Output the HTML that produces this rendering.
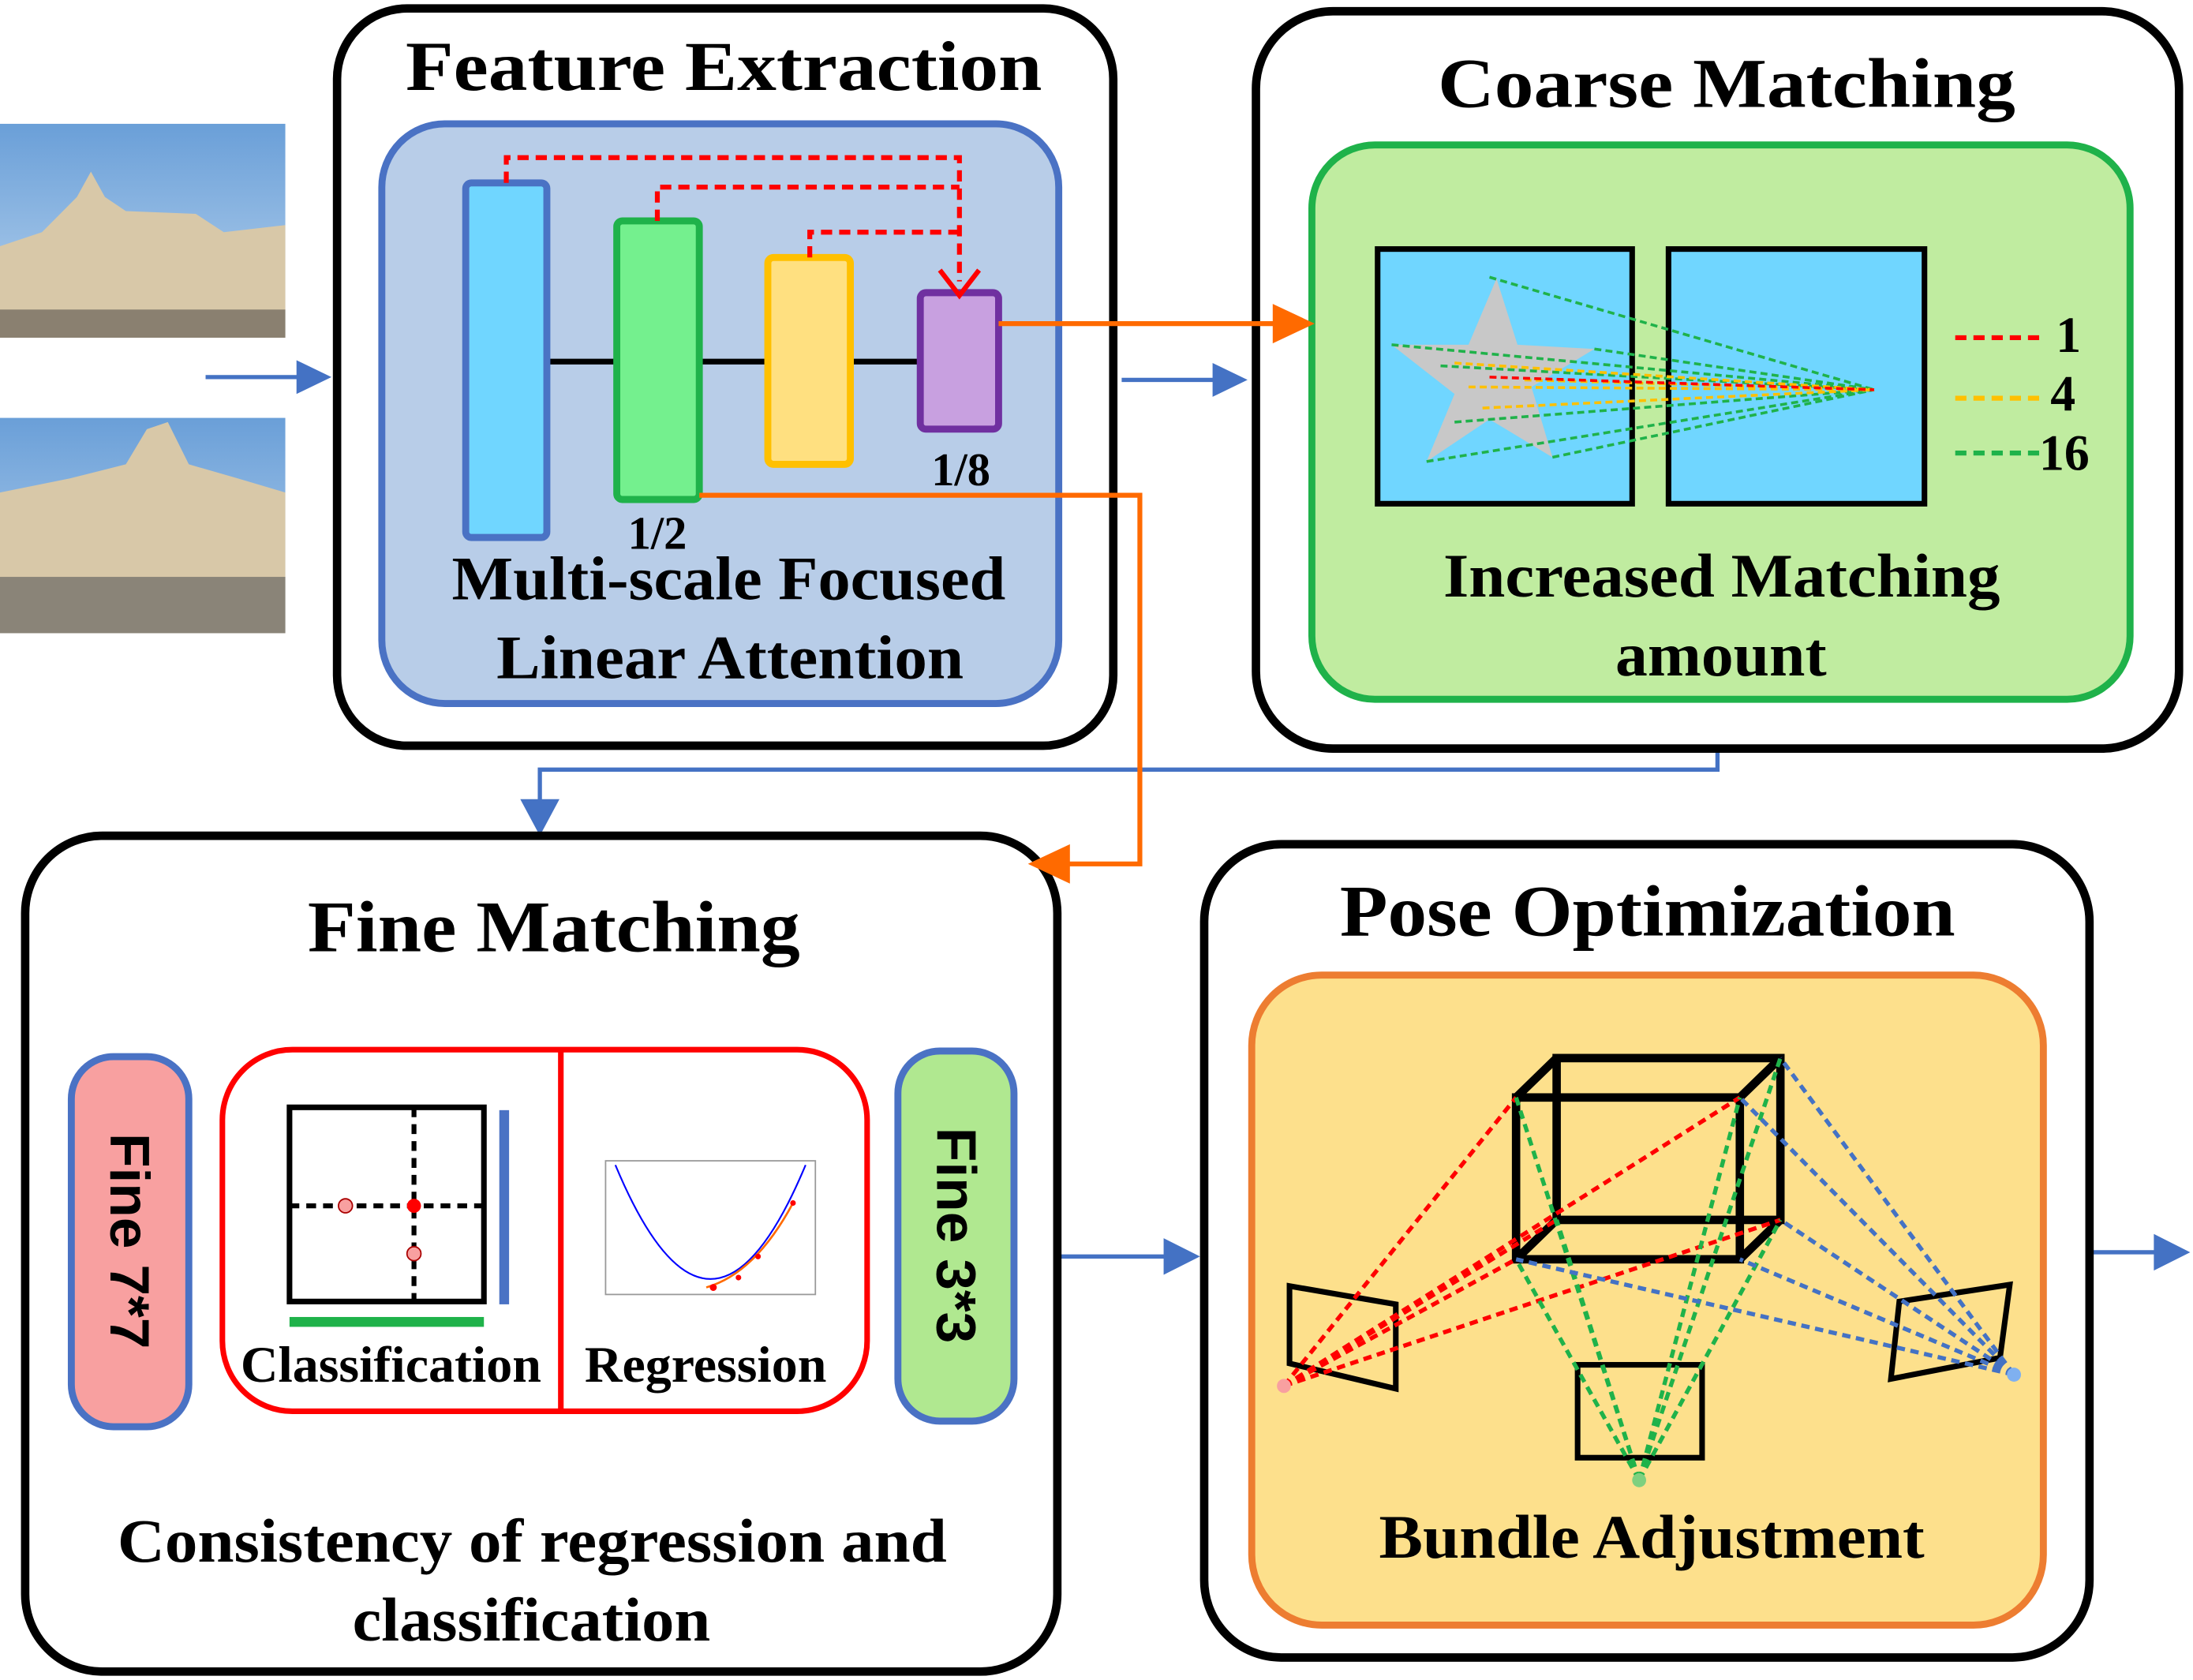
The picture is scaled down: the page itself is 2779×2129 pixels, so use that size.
<!DOCTYPE html>
<html><head><meta charset="utf-8"><style>html,body{margin:0;padding:0;background:#fff}svg{display:block}</style></head><body>
<svg width="2779" height="2129" viewBox="0 0 1568 1194" preserveAspectRatio="none" xmlns="http://www.w3.org/2000/svg" font-family="Liberation Serif, serif" font-weight="bold">
<defs>
<linearGradient id="sky" x1="0" y1="0" x2="0" y2="1"><stop offset="0" stop-color="#6a9fd8"/><stop offset="1" stop-color="#b9d4ee"/></linearGradient>
</defs>
<!-- photos -->
<rect x="0" y="88" width="204" height="152" fill="url(#sky)"/>
<path d="M0,240 L0,175 L30,165 L45,150 L55,140 L65,122 L75,140 L90,150 L140,152 L160,165 L204,160 L204,240Z" fill="#d8c8a8"/>
<rect x="0" y="220" width="204" height="20" fill="#8a8070"/>
<rect x="0" y="297" width="204" height="153" fill="url(#sky)"/>
<path d="M0,450 L0,350 L50,340 L90,330 L105,305 L120,300 L135,330 L170,340 L204,350 L204,450Z" fill="#d8c8a8"/>
<rect x="0" y="410" width="204" height="40" fill="#8a8478"/>
<!-- arrows -->
<g stroke="#4472c4" stroke-width="3" fill="#4472c4">
<line x1="147" y1="268" x2="215" y2="268"/><path d="M237,268 L212,256 L212,280Z" stroke="none"/>
<line x1="802" y1="270" x2="870" y2="270"/><path d="M892,270 L867,258 L867,282Z" stroke="none"/>
<polyline points="1228,532 1228,547 386,547 386,572" fill="none"/><path d="M386,594 L372,568 L400,568Z" stroke="none"/>
<line x1="756" y1="893" x2="835" y2="893"/><path d="M858,893 L832,880 L832,906Z" stroke="none"/>
<line x1="1494" y1="890" x2="1542" y2="890"/><path d="M1566,890 L1540,877 L1540,903Z" stroke="none"/>
</g>
<!-- Feature Extraction -->
<rect x="241" y="6" width="555" height="524" rx="50" fill="#fff" stroke="#000" stroke-width="6"/>
<text x="290" y="64" font-size="50" textLength="455" lengthAdjust="spacingAndGlyphs">Feature Extraction</text>
<rect x="273" y="88" width="484" height="412" rx="45" fill="#b8cde8" stroke="#4a72c4" stroke-width="5"/>
<g stroke="#000" stroke-width="4"><line x1="391" y1="257" x2="441" y2="257"/><line x1="500" y1="257" x2="549" y2="257"/><line x1="608" y1="257" x2="658" y2="257"/></g>
<rect x="333" y="130" width="58" height="252" rx="4" fill="#70d6ff" stroke="#4a72c4" stroke-width="5"/>
<rect x="441" y="157" width="59" height="198" rx="4" fill="#74f08e" stroke="#1fb24a" stroke-width="5"/>
<rect x="549" y="183" width="59" height="147" rx="4" fill="#ffe080" stroke="#ffc000" stroke-width="5"/>
<rect x="658" y="208" width="56" height="97" rx="4" fill="#c8a0e0" stroke="#7030a0" stroke-width="5"/>
<g stroke="#ff0000" stroke-width="3.5" stroke-dasharray="8,5" fill="none">
<polyline points="362,130 362,112 686,112 686,200"/>
<polyline points="470,157 470,133 686,133"/>
<polyline points="579,183 579,165 686,165"/>
</g>
<path d="M672,192 L686,210 L700,192" fill="none" stroke="#ff0000" stroke-width="3.5"/>
<text x="470" y="390" font-size="33" text-anchor="middle">1/2</text>
<text x="687" y="345" font-size="33" text-anchor="middle">1/8</text>
<text x="323" y="426" font-size="44" textLength="396" lengthAdjust="spacingAndGlyphs">Multi-scale Focused</text>
<text x="355" y="482" font-size="44" textLength="334" lengthAdjust="spacingAndGlyphs">Linear Attention</text>
<!-- Coarse -->
<rect x="898" y="8" width="660" height="524" rx="55" fill="#fff" stroke="#000" stroke-width="6"/>
<text x="1028" y="76" font-size="50" textLength="413" lengthAdjust="spacingAndGlyphs">Coarse Matching</text>
<rect x="938" y="103" width="585" height="394" rx="45" fill="#c0eca0" stroke="#1fb24a" stroke-width="5"/>
<rect x="985" y="177" width="182" height="181" fill="#70d6ff" stroke="#000" stroke-width="4"/>
<rect x="1193" y="177" width="183" height="181" fill="#70d6ff" stroke="#000" stroke-width="4"/>
<path d="M1070,198 L1085,245 L1140,248 L1095,275 L1110,325 L1065,298 L1020,328 L1040,280 L995,245 L1050,245Z" fill="#c8c8c8"/>
<g stroke-width="2" stroke-dasharray="5,3" fill="none">
<g stroke="#1fb24a"><line x1="1065" y1="197" x2="1340" y2="277"/><line x1="995" y1="245" x2="1340" y2="277"/><line x1="1020" y1="328" x2="1340" y2="277"/><line x1="1110" y1="325" x2="1340" y2="277"/><line x1="1140" y1="248" x2="1340" y2="277"/><line x1="1040" y1="300" x2="1340" y2="277"/><line x1="1030" y1="260" x2="1340" y2="277"/></g>
<g stroke="#ffc000"><line x1="1040" y1="258" x2="1340" y2="277"/><line x1="1060" y1="290" x2="1340" y2="277"/><line x1="1090" y1="270" x2="1340" y2="277"/><line x1="1050" y1="275" x2="1340" y2="277"/></g>
<g stroke="#ff0000"><line x1="1065" y1="268" x2="1340" y2="277"/></g>
</g>
<g stroke-width="3.5" stroke-dasharray="8,5"><line x1="1398" y1="240" x2="1462" y2="240" stroke="#ff0000"/><line x1="1398" y1="283" x2="1462" y2="283" stroke="#ffc000"/><line x1="1398" y1="322" x2="1462" y2="322" stroke="#1fb24a"/></g>
<text x="1470" y="250" font-size="36">1</text><text x="1466" y="292" font-size="36">4</text><text x="1458" y="334" font-size="36">16</text>
<text x="1032" y="424" font-size="44" textLength="398" lengthAdjust="spacingAndGlyphs">Increased Matching</text>
<text x="1155" y="480" font-size="44" textLength="151" lengthAdjust="spacingAndGlyphs">amount</text>
<!-- orange arrows -->
<g stroke="#ff6a00" stroke-width="3.5" fill="#ff6a00">
<line x1="714" y1="230" x2="915" y2="230"/><path d="M940,230 L910,216 L910,244Z" stroke="none"/>
<polyline points="500,352 815,352 815,614 760,614" fill="none"/>
</g>
<!-- Fine Matching -->
<rect x="18" y="594" width="738" height="594" rx="55" fill="#fff" stroke="#000" stroke-width="6"/>
<path d="M735,614 L765,600 L765,628Z" fill="#ff6a00"/>
<text x="220" y="676" font-size="52" textLength="352" lengthAdjust="spacingAndGlyphs">Fine Matching</text>
<rect x="51" y="751" width="84" height="263" rx="30" fill="#f8a0a0" stroke="#4a72c4" stroke-width="5"/>
<text x="0" y="0" font-size="40" font-family="Liberation Sans, sans-serif" text-anchor="middle" transform="translate(79,882) rotate(90)">Fine 7*7</text>
<rect x="642" y="747" width="83" height="263" rx="30" fill="#b0e890" stroke="#4a72c4" stroke-width="5"/>
<text x="0" y="0" font-size="40" font-family="Liberation Sans, sans-serif" text-anchor="middle" transform="translate(670,878) rotate(90)">Fine 3*3</text>
<rect x="159" y="746" width="461" height="257" rx="50" fill="#fff" stroke="#ff0000" stroke-width="4"/>
<line x1="401" y1="746" x2="401" y2="1003" stroke="#ff0000" stroke-width="4"/>
<rect x="207" y="787" width="139" height="138" fill="none" stroke="#000" stroke-width="4"/>
<g stroke="#000" stroke-width="3.5" stroke-dasharray="7,5"><line x1="296" y1="787" x2="296" y2="925"/><line x1="207" y1="857" x2="346" y2="857"/></g>
<circle cx="247" cy="857" r="5" fill="#f8a0a0" stroke="#a00" stroke-width="1"/><circle cx="296" cy="857" r="5" fill="#ff0000"/><circle cx="296" cy="891" r="5" fill="#f8a0a0" stroke="#a00" stroke-width="1"/>
<rect x="357" y="789" width="7" height="138" fill="#4a72c4"/>
<rect x="207" y="936" width="139" height="7" fill="#1fb24a"/>
<text x="172" y="982" font-size="36" textLength="215" lengthAdjust="spacingAndGlyphs">Classification</text>
<text x="418" y="982" font-size="36" textLength="173" lengthAdjust="spacingAndGlyphs">Regression</text>
<rect x="433" y="825" width="150" height="95" fill="none" stroke="#999" stroke-width="1"/>
<path d="M440,828 Q508,990 576,828" fill="none" stroke="#0000ff" stroke-width="1.2"/>
<path d="M505,915 Q540,905 567,855" fill="none" stroke="#ff6a00" stroke-width="1.5"/>
<g fill="#ff0000"><circle cx="510" cy="915" r="2.5"/><circle cx="528" cy="908" r="2"/><circle cx="542" cy="893" r="2"/><circle cx="567" cy="855" r="2"/></g>
<text x="84" y="1110" font-size="44" textLength="593" lengthAdjust="spacingAndGlyphs">Consistency of regression and</text>
<text x="252" y="1166" font-size="44" textLength="256" lengthAdjust="spacingAndGlyphs">classification</text>
<!-- Pose -->
<rect x="861" y="600" width="633" height="578" rx="55" fill="#fff" stroke="#000" stroke-width="6"/>
<text x="958" y="665" font-size="52" textLength="440" lengthAdjust="spacingAndGlyphs">Pose Optimization</text>
<rect x="895" y="693" width="566" height="462" rx="50" fill="#fde08c" stroke="#ed7d31" stroke-width="5"/>
<g stroke="#000" stroke-width="6" fill="none">
<rect x="1084" y="780" width="160" height="115"/>
<rect x="1113" y="752" width="160" height="115"/>
<line x1="1084" y1="780" x2="1113" y2="752"/><line x1="1244" y1="780" x2="1273" y2="752"/><line x1="1084" y1="895" x2="1113" y2="867"/><line x1="1244" y1="895" x2="1273" y2="867"/>
</g>
<g stroke="#000" stroke-width="4" fill="none">
<path d="M922,914 L998,927 L998,987 L922,969Z"/>
<path d="M1358,925 L1437,913 L1430,965 L1352,980Z"/>
<rect x="1128" y="970" width="89" height="66"/>
</g>
<g stroke-width="3" stroke-dasharray="6,4" fill="none">
<g stroke="#ff0000"><line x1="918" y1="985" x2="1084" y2="780"/><line x1="918" y1="985" x2="1244" y2="780"/><line x1="918" y1="985" x2="1113" y2="867"/><line x1="918" y1="985" x2="1273" y2="867"/><line x1="918" y1="985" x2="1084" y2="895"/></g>
<g stroke="#1fb24a"><line x1="1172" y1="1052" x2="1084" y2="780"/><line x1="1172" y1="1052" x2="1244" y2="780"/><line x1="1172" y1="1052" x2="1273" y2="752"/><line x1="1172" y1="1052" x2="1113" y2="867"/><line x1="1172" y1="1052" x2="1084" y2="895"/><line x1="1172" y1="1052" x2="1273" y2="867"/></g>
<g stroke="#4472c4"><line x1="1440" y1="977" x2="1273" y2="752"/><line x1="1440" y1="977" x2="1244" y2="780"/><line x1="1440" y1="977" x2="1273" y2="867"/><line x1="1440" y1="977" x2="1084" y2="895"/><line x1="1440" y1="977" x2="1244" y2="895"/></g>
</g>
<circle cx="918" cy="985" r="5" fill="#f8a0a0"/><circle cx="1172" cy="1052" r="5" fill="#7fd07f"/><circle cx="1440" cy="977" r="5" fill="#7fb0f0"/>
<text x="986" y="1107" font-size="44" textLength="390" lengthAdjust="spacingAndGlyphs">Bundle Adjustment</text>
</svg>
</body></html>
